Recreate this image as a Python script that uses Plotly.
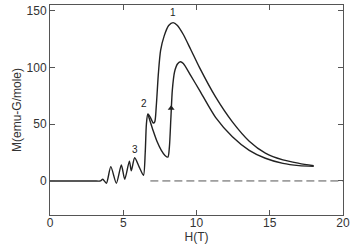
import plotly.graph_objects as go

# Rising sweep: baseline, oscillations, peak 2, upper branch through peak 1
H_up = [0, 1.5, 3.0, 3.45, 3.6, 3.85, 4.15, 4.53, 4.87, 5.1, 5.42, 5.55, 5.78, 6.1, 6.38,
        6.5, 6.58, 6.68, 6.85, 7.05, 7.15, 7.25, 7.4, 7.55, 7.8, 8.1, 8.4, 8.7, 9.1,
        9.6, 10.2, 11.3, 12.45, 13.6, 14.7, 15.9, 17.0, 18.0]
M_up = [0, 0, 0, 0, 1.5, -2, 12.6, -2, 14, 1.5, 17.5, 9, 20.5, 12, 5,
        25, 50, 59, 56, 51, 52, 65, 95, 115, 128, 137, 139.5, 137, 129,
        116, 100, 74, 52, 35, 24.5, 18.5, 15.5, 13.4]

# Lower branch from peak 2
H_low = [6.68, 6.85, 7.05, 7.3, 7.6, 7.85, 8.05, 8.15, 8.25, 8.35, 8.5, 8.7, 8.9, 9.1,
         9.6, 10.2, 11.3, 12.45, 13.6, 14.7, 15.9, 17.0, 18.0]
M_low = [59, 52, 44, 35, 27, 22.5, 21, 30, 55, 80, 96, 103, 105, 103.5,
         93, 80, 56, 39, 27, 20, 15.5, 13.5, 12.8]

# Dashed zero reference
H_dash = [6.85, 20]
M_dash = [0, 0]

# Arrow marker on lower branch
H_arrow = [8.27]
M_arrow = [64]

# Peak labels
lab_text = ["1", "2", "3"]
lab_H = [8.37, 6.45, 5.78]
lab_M = [148, 68, 28]

x_ticks = [0, 5, 10, 15, 20]
y_ticks = [0, 50, 100, 150]

col = "#222222"
fnt = "Liberation Sans"
fig = go.Figure()
fig.add_trace(go.Scatter(x=H_up, y=M_up, mode="lines",
                         line=dict(color=col, width=1.4, shape="spline", smoothing=0.7)))
fig.add_trace(go.Scatter(x=H_low, y=M_low, mode="lines",
                         line=dict(color=col, width=1.4, shape="spline", smoothing=0.7)))
fig.add_trace(go.Scatter(x=H_dash, y=M_dash, mode="lines",
                         line=dict(color="#555555", width=1, dash="8px,4px")))
fig.add_trace(go.Scatter(x=H_arrow, y=M_arrow, mode="markers",
                         marker=dict(symbol="triangle-up", size=6, color=col)))

for t, hx, my in zip(lab_text, lab_H, lab_M):
    fig.add_annotation(x=hx, y=my, text=t, showarrow=False,
                       font=dict(size=10, color=col, family=fnt))

axis_common = dict(showline=True, linecolor="#555555", linewidth=1, mirror="ticks",
                   ticks="inside", ticklen=5, tickcolor="#555555", showgrid=False,
                   zeroline=False, automargin=False,
                   tickfont=dict(size=12, color="#333333", family=fnt))

fig.update_layout(
    width=354, height=245,
    margin=dict(l=50, r=11, t=5, b=30),
    paper_bgcolor="white", plot_bgcolor="white",
    showlegend=False,
    xaxis=dict(range=[0, 20], tickvals=x_ticks, ticklabelstandoff=-3,
               title=dict(text="H(T)", standoff=0,
                          font=dict(size=12, color="#333333", family=fnt)),
               **axis_common),
    yaxis=dict(range=[-30, 155], tickvals=y_ticks,
               title=dict(text="M(emu-G/mole)", standoff=2,
                          font=dict(size=12, color="#333333", family=fnt)),
               **axis_common),
)

fig.write_html("out.html", config={"displayModeBar": False},
               post_script="document.body.style.margin='0';document.body.style.overflow='hidden';")
